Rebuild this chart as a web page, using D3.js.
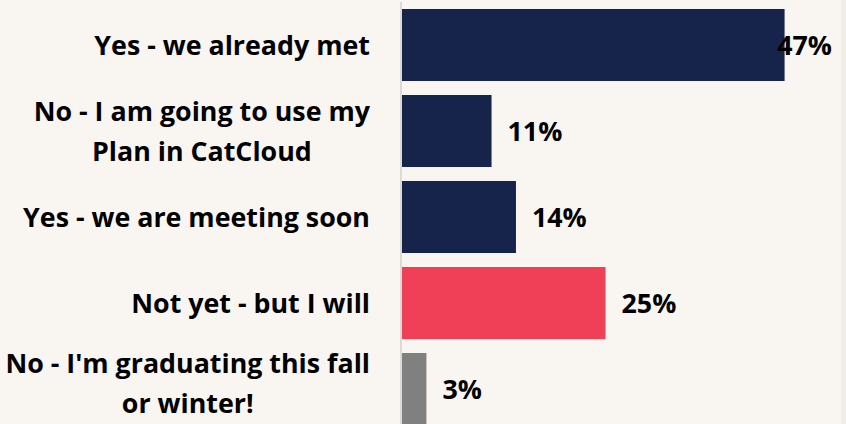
<!DOCTYPE html>
<html>
<head>
<meta charset="utf-8">
<script src="https://cdn.jsdelivr.net/npm/d3@7"></script>
<style>
  html, body { margin: 0; padding: 0; background: #f9f6f2; }
  svg { display: block; }
</style>
</head>
<body>
<svg id="chart"></svg>
<script>
const width = 846;
const height = 424;

// data
const categories = [
  ["Yes - we already met"],
  ["No - I am going to use my", "Plan in CatCloud"],
  ["Yes - we are meeting soon"],
  ["Not yet - but I will"],
  ["No - I'm graduating this fall", "or winter!"]
];
const values = [47, 11, 14, 25, 3];
const barColors = ["#16244c", "#16244c", "#16244c", "#f04057", "#808080"];

const fontSize = 26.8;
const lineHeight = 40;
const capH = fontSize * 0.714;

const svg = d3.select("#chart")
  .attr("width", width)
  .attr("height", height)
  .attr("viewBox", `0 0 ${width} ${height}`)
  .style("font-family", "'Open Sans', Lato, sans-serif")
  .style("font-weight", "bold");

svg.append("rect")
  .attr("width", width)
  .attr("height", height)
  .attr("fill", "#f9f6f2");

// strip on the right edge
svg.append("rect")
  .attr("x", 841)
  .attr("width", width - 841)
  .attr("height", height)
  .attr("fill", "#f0ece6");

const x = d3.scaleLinear().domain([0, 50]).range([402, 402 + 50 * 8.14]);
const y = d3.scaleBand()
  .domain(d3.range(values.length))
  .range([2, 432])
  .paddingInner(14 / 86)
  .paddingOuter(7 / 86);

// axis line
svg.append("line")
  .attr("x1", 401).attr("x2", 401)
  .attr("y1", 2).attr("y2", height)
  .attr("stroke", "#dcdad6")
  .attr("stroke-width", 2);

svg.append("g")
  .selectAll("rect")
  .data(values)
  .join("rect")
  .attr("x", x(0))
  .attr("y", (d, i) => y(i))
  .attr("width", d => x(d) - x(0))
  .attr("height", y.bandwidth())
  .attr("fill", (d, i) => barColors[i]);

// value labels
const labelRight = 832;
svg.append("g")
  .selectAll("text")
  .data(values)
  .join("text")
  .attr("y", (d, i) => y(i) + y.bandwidth() / 2 + capH / 2)
  .attr("font-size", fontSize)
  .attr("fill", "#000")
  .text(d => d + "%")
  .each(function (d) {
    const w = this.getComputedTextLength();
    let tx = x(d) + 16;
    if (tx + w > labelRight) tx = labelRight - w;
    d3.select(this).attr("x", tx);
  });

// category labels, lines centred on the widest line, block right aligned
const catRight = 370;
const maxBaseline = height - 11;
const cats = svg.append("g")
  .selectAll("g")
  .data(categories)
  .join("g");

cats.each(function (lines, i) {
  const g = d3.select(this);
  const cy = y(i) + y.bandwidth() / 2;
  let top = cy + capH / 2 - (lines.length - 1) * lineHeight / 2;
  // keep the block inside the picture, like the original does
  const last = top + (lines.length - 1) * lineHeight;
  if (last > maxBaseline) top -= last - maxBaseline;
  const texts = g.selectAll("text")
    .data(lines)
    .join("text")
    .attr("font-size", fontSize)
    .attr("fill", "#000")
    .attr("text-anchor", "middle")
    .attr("y", (d, j) => top + j * lineHeight)
    .text(d => d);
  let maxW = 0;
  texts.each(function () { maxW = Math.max(maxW, this.getComputedTextLength()); });
  texts.attr("x", catRight - maxW / 2);
});
</script>
</body>
</html>
